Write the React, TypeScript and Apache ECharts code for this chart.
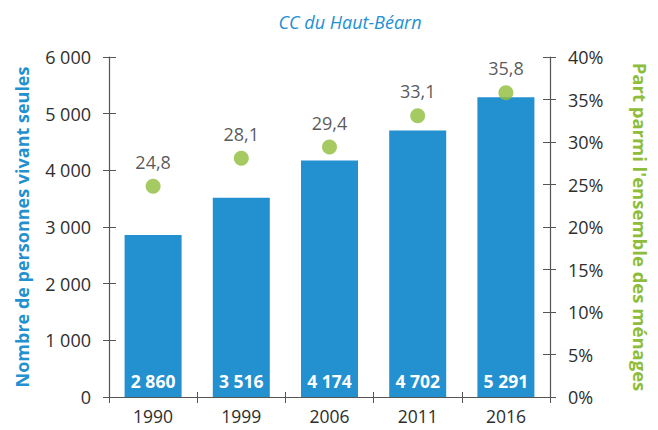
import React, { useEffect, useRef } from "react";
import * as echarts from "echarts";

const categories = ["1990", "1999", "2006", "2011", "2016"];
const personnes = [2860, 3516, 4174, 4702, 5291];
const part = [24.8, 28.1, 29.4, 33.1, 35.8];

const BLUE = "#2390d0";
const GREEN = "#8dbd3a";
const AXIS = "#555555";
const TEXT = "#2e2e2e";
const FONT = "'Open Sans', 'Noto Sans', sans-serif";

const fmtThousands = (v: number) =>
  String(v).replace(/\B(?=(\d{3})+(?!\d))/g, " ");

export default function App() {
  const ref = useRef<HTMLDivElement>(null);
  useEffect(() => {
    if (!ref.current) return;
    const chart = echarts.init(ref.current, null, { renderer: "svg" });
    const axisLine = { show: true, lineStyle: { color: AXIS, width: 1.2 } };
    chart.setOption({
      animation: false,
      textStyle: { fontFamily: FONT },
      title: {
        text: "CC du Haut-Béarn",
        left: 345,
        top: 8,
        textAlign: "center",
        textStyle: { color: BLUE, fontStyle: "italic", fontWeight: "normal", fontSize: 18, fontFamily: FONT },
      },
      grid: { left: 109, right: 90, top: 57, bottom: 33 },
      xAxis: [
        {
          type: "category",
          data: categories,
          axisLine,
          axisTick: { show: true, length: 6, lineStyle: { color: AXIS } },
          axisLabel: { color: TEXT, fontSize: 17.5, lineHeight: 18, margin: 10, fontFamily: FONT },
        },
        {
          type: "category",
          data: categories,
          position: "bottom",
          axisLine: { show: false },
          axisTick: { show: true, inside: true, length: 5, lineStyle: { color: AXIS } },
          axisLabel: { show: false },
        },
      ],
      yAxis: [
        {
          type: "value",
          min: 0,
          max: 6000,
          interval: 1000,
          position: "left",
          axisLine,
          axisTick: { show: true, length: 6, lineStyle: { color: AXIS } },
          splitLine: { show: false },
          axisLabel: { color: TEXT, fontSize: 18, margin: 18, formatter: (v: number) => fmtThousands(v), fontFamily: FONT },
          name: "Nombre de personnes vivant seules",
          nameLocation: "middle",
          nameRotate: 90,
          nameGap: 78,
          nameTextStyle: { color: BLUE, fontWeight: "bold", fontSize: 18, fontFamily: FONT },
        },
        {
          type: "value",
          min: 0,
          max: 40,
          interval: 5,
          position: "right",
          axisLine,
          axisTick: { show: true, length: 6, lineStyle: { color: AXIS } },
          splitLine: { show: false },
          axisLabel: { color: TEXT, fontSize: 18, margin: 18, formatter: (v: number) => v + "%", fontFamily: FONT },
          name: "Part parmi l'ensemble des ménages",
          nameLocation: "middle",
          nameRotate: -90,
          nameGap: 81,
          nameTextStyle: { color: GREEN, fontWeight: "bold", fontSize: 18.5, fontFamily: FONT },
        },
        {
          type: "value",
          min: 0,
          max: 6000,
          interval: 1000,
          position: "left",
          axisLine: { show: false },
          axisTick: { show: true, inside: true, length: 7, lineStyle: { color: AXIS } },
          axisLabel: { show: false },
          splitLine: { show: false },
        },
        {
          type: "value",
          min: 0,
          max: 40,
          interval: 5,
          position: "right",
          axisLine: { show: false },
          axisTick: { show: true, inside: true, length: 7, lineStyle: { color: AXIS } },
          axisLabel: { show: false },
          splitLine: { show: false },
        },
      ],
      series: [
        {
          type: "bar",
          data: personnes,
          yAxisIndex: 0,
          barWidth: 57,
          itemStyle: { color: BLUE },
          label: {
            show: true,
            position: "insideBottom",
            distance: 7,
            color: "#ffffff",
            fontWeight: "bold",
            fontSize: 17.5,
            fontFamily: FONT,
            formatter: (p: any) => fmtThousands(p.value),
          },
          z: 2,
        },
        {
          type: "scatter",
          data: part,
          yAxisIndex: 1,
          symbol: "circle",
          symbolSize: 15,
          itemStyle: { color: GREEN },
          label: {
            show: true,
            position: "top",
            distance: 8,
            color: TEXT,
            fontSize: 18,
            fontFamily: FONT,
            formatter: (p: any) => String(p.value).replace(".", ","),
          },
          z: 3,
        },
      ],
    });
    return () => chart.dispose();
  }, []);
  return <div ref={ref} style={{ width: 658, height: 430, position: "absolute", left: 0, top: 0 }} />;
}
